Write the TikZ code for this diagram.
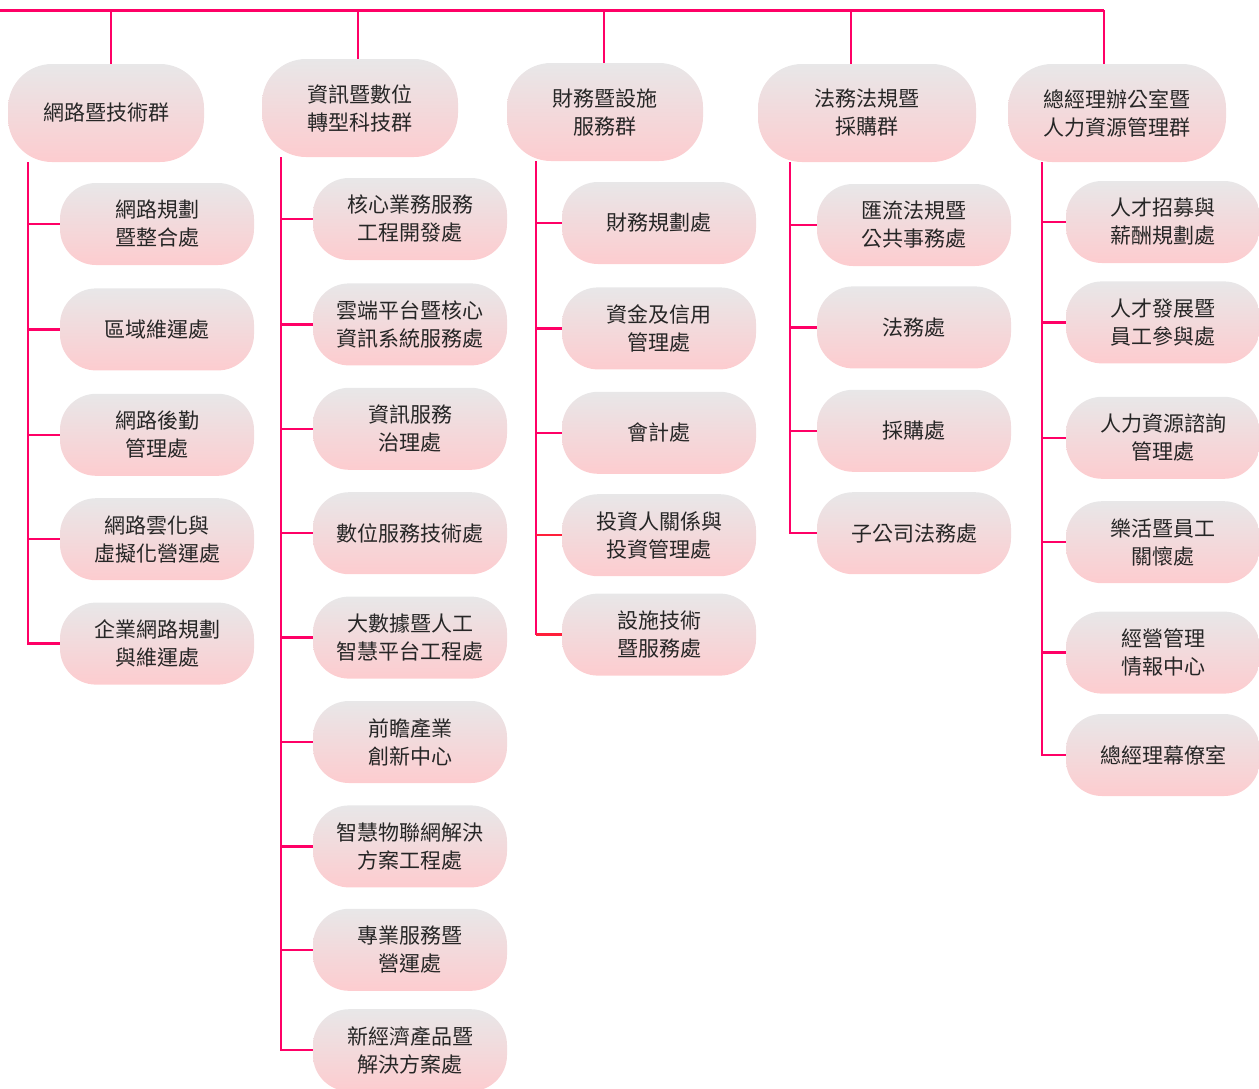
\documentclass[tikz,border=0pt]{standalone}
\usepackage{fontspec}
\newfontfamily\tcfont{Noto Sans CJK TC}
\usetikzlibrary{positioning}

\definecolor{linkpink}{HTML}{FF0066}
\definecolor{linkred}{HTML}{FF1F3A}
\definecolor{boxtop}{HTML}{E8E7E8}
\definecolor{boxbot}{HTML}{FDCCCF}
\definecolor{boxtext}{HTML}{262626}

\tikzset{
  unit/.style={rounded corners=36pt, top color=boxtop, bottom color=boxbot,
    draw=none, text=boxtext, align=center, inner sep=0pt,
    font=\tcfont\fontsize{21}{28}\selectfont},
  group/.style={unit, minimum width=196pt, minimum height=98pt, rounded corners=44pt},
  dept/.style={unit, minimum width=194pt, minimum height=82pt},
  bus/.style={draw=linkpink, line width=3pt},
  drop/.style={draw=linkpink, line width=2.5pt},
  spine/.style={draw=linkpink, line width=2.5pt},
}

\begin{document}
\begin{tikzpicture}[x=1pt,y=-1pt,node distance=22pt]
    \useasboundingbox (0,0) rectangle (1259,1088);

    % groups
    \node[group] (g1) at (106,113)                       {網路暨技術群};
    \node[group] (g2) at (360,108)                       {資訊暨數位\\轉型科技群};
    \node[group] (g3) at (605,112)                       {財務暨設施\\服務群};
    \node[group,minimum width=218pt] (g4) at (867,113)   {法務法規暨\\採購群};
    \node[group,minimum width=218pt] (g5) at (1117,113)  {總經理辦公室暨\\人力資源管理群};

    % column 1
    \node[dept] (c11) at (157,224)           {網路規劃\\暨整合處};
    \node[dept] (c12) [below=23pt of c11]    {區域維運處};
    \node[dept] (c13) [below=23pt of c12]    {網路後勤\\管理處};
    \node[dept] (c14) [below=22pt of c13]    {網路雲化與\\虛擬化營運處};
    \node[dept] (c15) [below=22pt of c14]    {企業網路規劃\\與維運處};

    % column 2
    \node[dept] (c21) at (410,219)           {核心業務服務\\工程開發處};
    \node[dept] (c22) [below=23pt of c21]    {雲端平台暨核心\\資訊系統服務處};
    \node[dept] (c23) [below=of c22]         {資訊服務\\治理處};
    \node[dept] (c24) [below=of c23]         {數位服務技術處};
    \node[dept] (c25) [below=of c24]         {大數據暨人工\\智慧平台工程處};
    \node[dept] (c26) [below=of c25]         {前瞻產業\\創新中心};
    \node[dept] (c27) [below=of c26]         {智慧物聯網解決\\方案工程處};
    \node[dept] (c28) [below=21pt of c27]    {專業服務暨\\營運處};
    \node[dept] (c29) [below=18pt of c28]    {新經濟產品暨\\解決方案處};

    % column 3
    \node[dept] (c31) at (659,223)           {財務規劃處};
    \node[dept] (c32) [below=23pt of c31]    {資金及信用\\管理處};
    \node[dept] (c33) [below=of c32]         {會計處};
    \node[dept] (c34) [below=20pt of c33]    {投資人關係與\\投資管理處};
    \node[dept] (c35) [below=17pt of c34]    {設施技術\\暨服務處};

    % column 4
    \node[dept] (c41) at (914,225)           {匯流法規暨\\公共事務處};
    \node[dept] (c42) [below=20pt of c41]    {法務處};
    \node[dept] (c43) [below=21pt of c42]    {採購處};
    \node[dept] (c44) [below=20pt of c43]    {子公司法務處};

    % column 5
    \node[dept] (c51) at (1163,222)          {人才招募與\\薪酬規劃處};
    \node[dept] (c52) [below=18pt of c51]    {人才發展暨\\員工參與處};
    \node[dept] (c53) [below=33pt of c52]    {人力資源諮詢\\管理處};
    \node[dept] (c54) [below=of c53]         {樂活暨員工\\關懷處};
    \node[dept] (c55) [below=28pt of c54]    {經營管理\\情報中心};
    \node[dept] (c56) [below=20pt of c55]    {總經理幕僚室};

    % top bus
    \coordinate (b0) at (0,10);
    \coordinate (t1) at (111,10);
    \coordinate (t2) at (358,10);
    \coordinate (t3) at (604,10);
    \coordinate (t4) at (851,10);
    \coordinate (t5) at (1104,10);
    \draw[bus] (b0) -- (t5);
    \draw[drop] (t1) -- (t1 |- g1.north);
    \draw[drop] (t2) -- (t2 |- g2.north);
    \draw[drop] (t3) -- (t3 |- g3.north);
    \draw[drop] (t4) -- (t4 |- g4.north);
    \draw[drop] (t5) -- (t5 |- g5.north);

    % spines
    \coordinate (s1) at ([xshift=20pt]g1.south west);
    \coordinate (s2) at ([xshift=19pt]g2.south west);
    \coordinate (s3) at ([xshift=29pt]g3.south west);
    \coordinate (s4) at ([xshift=32pt]g4.south west);
    \coordinate (s5) at ([xshift=34pt]g5.south west);
    \draw[spine] (s1) |- (c15.west);
    \draw[spine] (s2) |- (c29.west);
    \draw[spine] (s3) -- (s3 |- c35.west);
    \draw[spine] (s4) |- (c44.west);
    \draw[spine] (s5) |- (c56.west);

    % branches
    \foreach \k in {c11,c12,c13,c14} \draw[drop] (s1 |- \k.west) -- (\k.west);
    \foreach \k in {c21,c22,c23,c24,c25,c26,c27,c28} \draw[drop] (s2 |- \k.west) -- (\k.west);
    \foreach \k in {c31,c32,c33} \draw[drop] (s3 |- \k.west) -- (\k.west);
    \foreach \k in {c34,c35} \draw[drop,draw=linkred] (s3 |- \k.west) -- (\k.west);
    \foreach \k in {c41,c42,c43} \draw[drop] (s4 |- \k.west) -- (\k.west);
    \foreach \k in {c51,c52,c53,c54,c55} \draw[drop] (s5 |- \k.west) -- (\k.west);
\end{tikzpicture}
\end{document}
